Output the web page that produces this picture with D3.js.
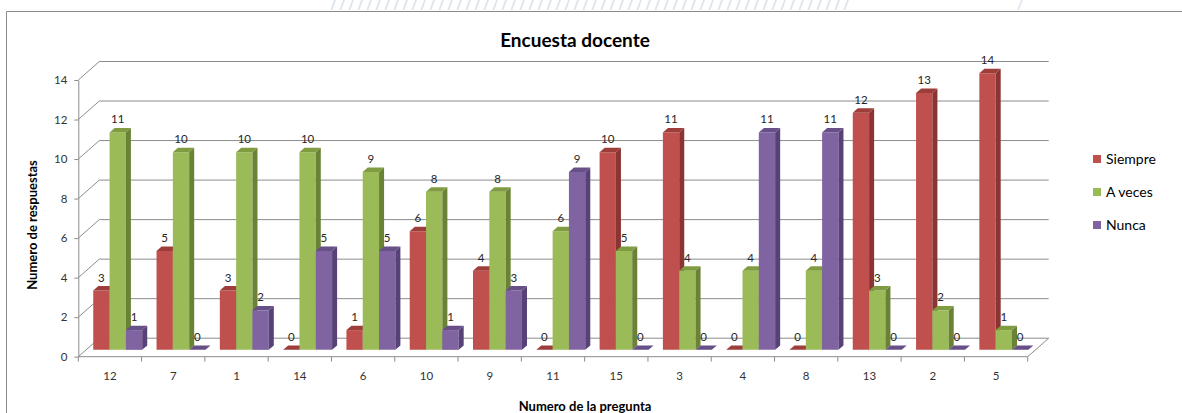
<!DOCTYPE html>
<html>
<head>
<meta charset="utf-8">
<script src="https://cdn.jsdelivr.net/npm/d3@7"></script>
<style>
  html, body { margin: 0; padding: 0; background: #fff; }
  svg { display: block; font-family: Lato, "Open Sans", sans-serif; }
</style>
</head>
<body>
<svg id="chart" width="1182" height="413"></svg>
<script>
// Survey answers per question
const categories = ["12", "7", "1", "14", "6", "10", "9", "11", "15", "3", "4", "8", "13", "2", "5"];
const seriesNames = ["Siempre", "A veces", "Nunca"];
const siempre = [3, 5, 3, 0, 1, 6, 4, 0, 10, 11, 0, 0, 12, 13, 14];
const aVeces  = [11, 10, 10, 10, 9, 8, 8, 6, 5, 4, 4, 4, 3, 2, 1];
const nunca   = [1, 0, 2, 5, 5, 1, 3, 9, 0, 0, 11, 11, 0, 0, 0];
const yTicks  = [0, 2, 4, 6, 8, 10, 12, 14];

const seriesValues = [siempre, aVeces, nunca];

// face colours: front, side, top
const palette = {
  "Siempre": { front: "#C0504D", side: "#8A3533", top: "#9E3E3B" },
  "A veces": { front: "#9BBB59", side: "#6A8236", top: "#7F9C40" },
  "Nunca":   { front: "#8064A2", side: "#574277", top: "#674F88" }
};

const svg = d3.select("#chart");

// faint hatched strip along the top edge
const defs = svg.append("defs");
const hatch = defs.append("pattern")
  .attr("id", "hatch").attr("patternUnits", "userSpaceOnUse")
  .attr("width", 9).attr("height", 10)
  .attr("patternTransform", "skewX(-20)");
hatch.append("line").attr("x1", 2).attr("y1", 0).attr("x2", 2).attr("y2", 10)
  .attr("stroke", "#dfe5ee").attr("stroke-width", 2);
svg.append("rect").attr("x", 330).attr("y", 0).attr("width", 520).attr("height", 10)
  .attr("fill", "url(#hatch)");
svg.append("line").attr("x1", 1022).attr("y1", 0).attr("x2", 1018).attr("y2", 10)
  .attr("stroke", "#e3e8ef").attr("stroke-width", 2);

// chart frame
svg.append("path")
  .attr("d", "M6.5,420 L6.5,11.5 L1190,11.5")
  .attr("fill", "none").attr("stroke", "#8a8a8a").attr("stroke-width", 1);

// scales
const x = d3.scaleBand().domain(categories).range([78.3, 1027.7]);
const xs = d3.scaleBand().domain(seriesNames).range([0, x.bandwidth()]).paddingOuter(0.44);
const y = d3.scaleLinear().domain([0, 14]).range([356.7, 80]);

// oblique depth of the plot box
const DX = 21, DY = 18.5;
const proj = (px, py, z) => [px + z * DX, py - z * DY];
const zFront = 0.37, zBack = 0.61;

const grid = svg.append("g").attr("stroke", "#8c8c8c").attr("stroke-width", 1).attr("fill", "none");
const x0 = x.range()[0], x1 = x.range()[1];

// back wall gridlines and side wall diagonals
yTicks.forEach(v => {
  const [bx0, by] = proj(x0, y(v), 1);
  const [bx1] = proj(x1, y(v), 1);
  grid.append("line").attr("x1", bx0).attr("y1", by).attr("x2", bx1).attr("y2", by);
  grid.append("line").attr("x1", x0).attr("y1", y(v)).attr("x2", bx0).attr("y2", by);
});

// floor: front edge and right edge
{
  const [rx, ry] = proj(x1, y(0), 1);
  grid.append("line").attr("x1", x0).attr("y1", y(0)).attr("x2", x1).attr("y2", y(0));
  grid.append("line").attr("x1", x1).attr("y1", y(0)).attr("x2", rx).attr("y2", ry);
}

// value axis
const yAxis = svg.append("g")
  .attr("transform", `translate(${x0},0)`)
  .call(d3.axisLeft(y).tickValues(yTicks).tickSize(4).tickSizeOuter(0).tickPadding(7));
yAxis.select(".domain").attr("stroke", "#8c8c8c");
yAxis.selectAll(".tick line").attr("stroke", "#8c8c8c");
yAxis.selectAll(".tick text").attr("font-family", "Lato, sans-serif")
  .attr("font-size", "11.5px").attr("fill", "#333");

// category axis: labels at band centres, ticks at band boundaries
const xAxis = svg.append("g")
  .attr("transform", `translate(0,${y(0)})`)
  .call(d3.axisBottom(x).tickSize(0).tickPadding(15));
xAxis.select(".domain").remove();
xAxis.selectAll(".tick text").attr("font-family", "Lato, sans-serif")
  .attr("font-size", "11.5px").attr("fill", "#333");
const bounds = categories.map(c => x(c)).concat([x1]);
svg.append("g").selectAll("line").data(bounds).join("line")
  .attr("x1", d => d).attr("x2", d => d)
  .attr("y1", y(0)).attr("y2", y(0) + 5)
  .attr("stroke", "#8c8c8c");

// bars, drawn left to right so each hides its neighbour's side face
const bars = [];
categories.forEach((c, i) => {
  seriesNames.forEach((s, j) => {
    bars.push({ cat: c, series: s, value: seriesValues[j][i] });
  });
});

const pts = a => a.map(p => p.join(",")).join(" ");
const barLayer = svg.append("g");
bars.forEach(b => {
  const col = palette[b.series];
  const l = x(b.cat) + xs(b.series);
  const r = l + xs.bandwidth();
  const yb = y(0), yt = y(b.value);
  const fBL = proj(l, yb, zFront), fBR = proj(r, yb, zFront);
  const fTL = proj(l, yt, zFront), fTR = proj(r, yt, zFront);
  const bTL = proj(l, yt, zBack), bTR = proj(r, yt, zBack);
  const bBR = proj(r, yb, zBack);
  const g = barLayer.append("g");
  if (b.value > 0) {
    g.append("polygon").attr("points", pts([fBL, fBR, fTR, fTL])).attr("fill", col.front);
    g.append("polygon").attr("points", pts([fBR, bBR, bTR, fTR])).attr("fill", col.side);
  }
  g.append("polygon").attr("points", pts([fTL, fTR, bTR, bTL])).attr("fill", col.top);
  b.labelX = (fTL[0] + fTR[0]) / 2;
  b.labelY = fTL[1] - 9;
});

// value labels
svg.append("g").selectAll("text").data(bars).join("text")
  .attr("x", d => d.labelX).attr("y", d => d.labelY)
  .attr("text-anchor", "middle")
  .attr("font-size", "11.5px").attr("fill", "#262626")
  .text(d => d.value);

// title and axis titles
svg.append("text").attr("x", 575).attr("y", 47).attr("text-anchor", "middle")
  .attr("font-size", "19px").attr("font-weight", "bold").attr("fill", "#000")
  .text("Encuesta docente");
svg.append("text").attr("transform", "translate(37,225) rotate(-90)")
  .attr("text-anchor", "middle").attr("font-size", "13px").attr("font-weight", "bold")
  .attr("fill", "#000").text("Numero de respuestas");
svg.append("text").attr("x", 585).attr("y", 411).attr("text-anchor", "middle")
  .attr("font-size", "13px").attr("font-weight", "bold").attr("fill", "#000")
  .text("Numero de la pregunta");

// legend
const legend = svg.append("g").selectAll("g").data(seriesNames).join("g")
  .attr("transform", (d, i) => `translate(1093,${159 + i * 33})`);
legend.append("rect").attr("x", 0).attr("y", -4).attr("width", 8).attr("height", 8)
  .attr("fill", d => palette[d].front);
legend.append("text").attr("x", 13).attr("y", 5)
  .attr("font-size", "14px").attr("fill", "#000").text(d => d);
</script>
</body>
</html>
